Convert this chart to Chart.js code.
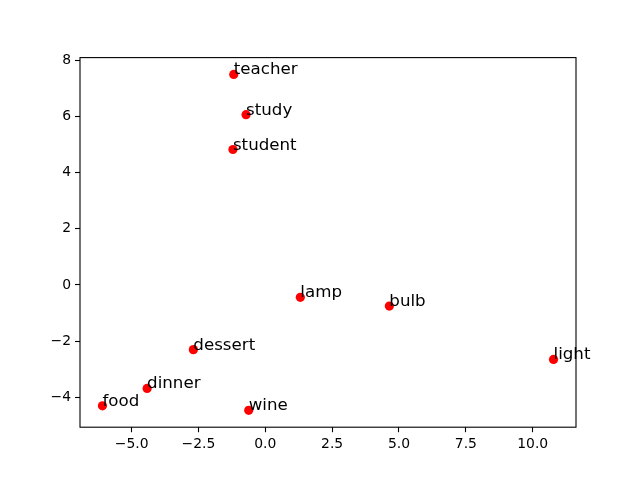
<!DOCTYPE html>
<html>
<head>
<meta charset="utf-8">
<script src="https://cdn.jsdelivr.net/npm/chart.js@4.4.1/dist/chart.umd.min.js"></script>
<style>html,body{margin:0;padding:0;background:#fff;}canvas{display:block;}</style>
</head>
<body>
<canvas id="c" width="640" height="480"></canvas>
<script>
const words = ["teacher","study","student","lamp","bulb","light","dessert","dinner","food","wine"];
const xValues = [-1.18,-0.72,-1.21,1.31,4.64,10.78,-2.69,-4.42,-6.09,-0.62];
const yValues = [7.49,6.06,4.82,-0.44,-0.75,-2.65,-2.30,-3.68,-4.30,-4.46];
const xTicks = [-5,-2.5,0,2.5,5,7.5,10];
const yTicks = [-4,-2,0,2,4,6,8];

const pts = xValues.map((x,i)=>({x:x,y:yValues[i]}));
const fmtX = v => (v<0?"\u2212":"") + Math.abs(v).toFixed(1);
const fmtY = v => (v<0?"\u2212":"") + Math.abs(v).toFixed(0);

const labelPlugin = {
  id:'labels',
  afterDatasetsDraw(chart){
    const ctx = chart.ctx, xs = chart.scales.x, ys = chart.scales.y;
    ctx.save();
    ctx.font = '16.67px "DejaVu Sans"';
    ctx.fillStyle = '#000';
    ctx.textAlign = 'left';
    ctx.textBaseline = 'alphabetic';
    words.forEach((w,i)=>{
      ctx.fillText(w, xs.getPixelForValue(xValues[i]), ys.getPixelForValue(yValues[i]));
    });
    const a = chart.chartArea;
    ctx.strokeStyle = '#000';
    ctx.lineWidth = 1.1;
    ctx.strokeRect(a.left, a.top, a.right-a.left, a.bottom-a.top);
    ctx.restore();
  }
};

new Chart(document.getElementById('c'), {
  type:'scatter',
  data:{datasets:[{data:pts, backgroundColor:'#ff0000', borderColor:'#ff0000', pointRadius:4.6, pointHoverRadius:4.6, borderWidth:0}]},
  options:{
    responsive:false, animation:false,
    layout:{padding:{top:57.6,right:64,left:0,bottom:0}},
    plugins:{legend:{display:false},tooltip:{enabled:false}},
    scales:{
      x:{type:'linear', min:-6.93, max:11.62,
        afterBuildTicks(s){ s.ticks = xTicks.map(v=>({value:v})); },
        afterFit(s){ s.height = 52.8; },
        grid:{drawOnChartArea:false, tickLength:5, tickColor:'#000', tickWidth:1.1},
        border:{display:false},
        ticks:{color:'#000', padding:4, font:{family:'DejaVu Sans', size:13.9}, maxRotation:0, autoSkip:false, callback:v=>fmtX(v)}
      },
      y:{type:'linear', min:-5.06, max:8.09,
        afterBuildTicks(s){ s.ticks = yTicks.map(v=>({value:v})); },
        afterFit(s){ s.width = 80; },
        grid:{drawOnChartArea:false, tickLength:5, tickColor:'#000', tickWidth:1.1},
        border:{display:false},
        ticks:{color:'#000', padding:4, font:{family:'DejaVu Sans', size:13.9}, autoSkip:false, callback:v=>fmtY(v)}
      }
    }
  },
  plugins:[labelPlugin]
});
</script>
</body>
</html>
